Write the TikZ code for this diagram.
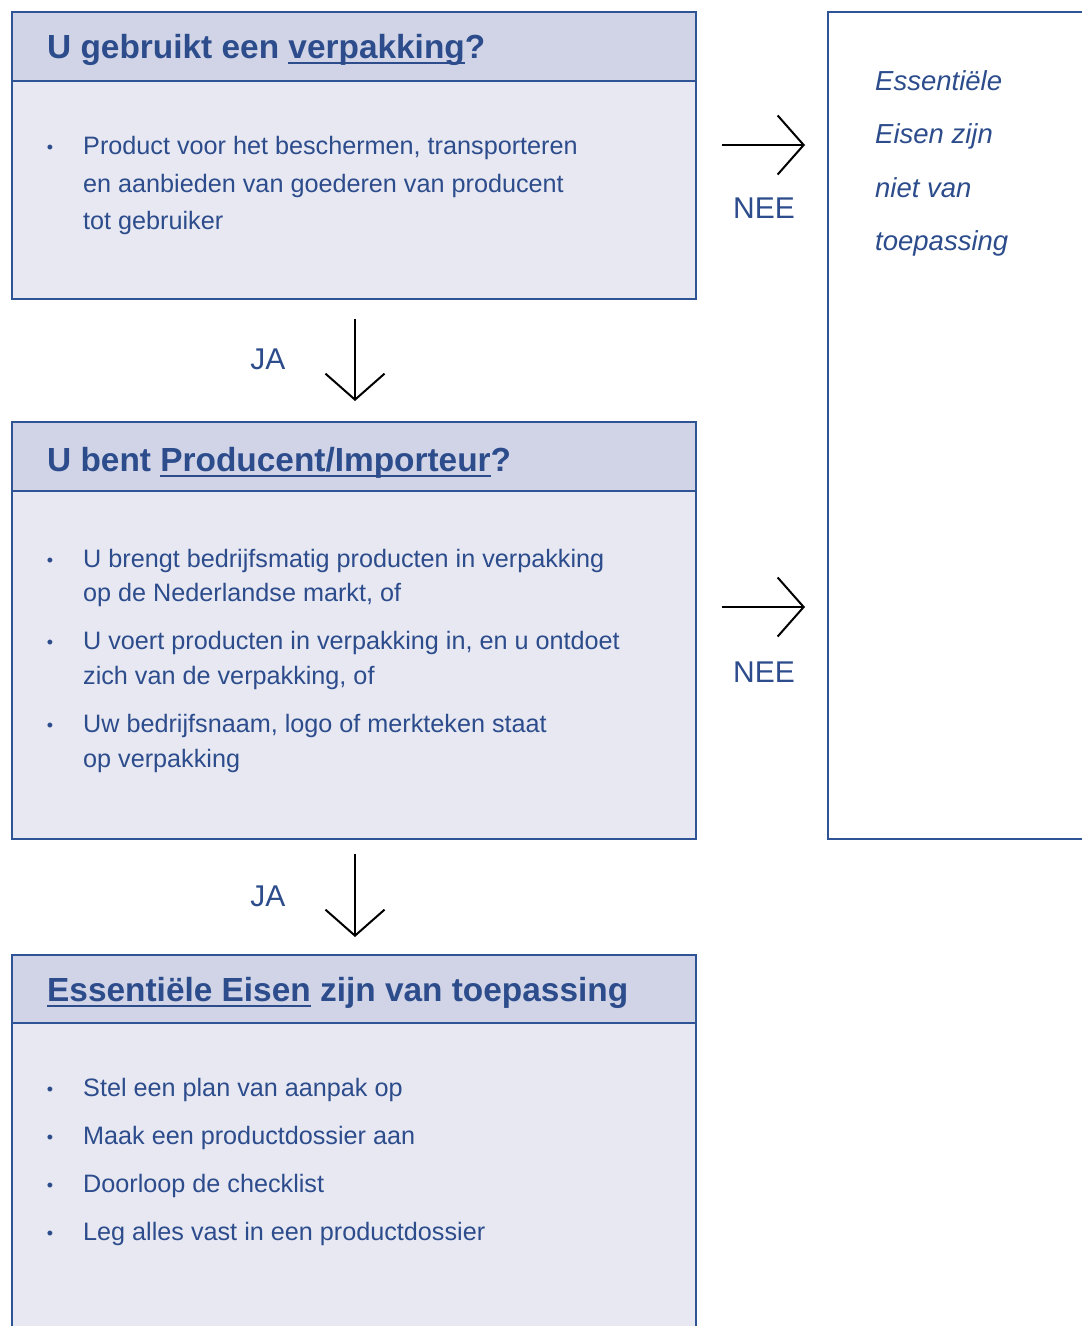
\documentclass[tikz,border=0pt]{standalone}
\usepackage{fontspec}
\setmainfont{Liberation Sans}
\usetikzlibrary{arrows.meta}
\definecolor{bord}{RGB}{47,84,150}
\definecolor{txt}{RGB}{44,76,140}
\definecolor{hdfill}{RGB}{208,212,230}
\definecolor{bdfill}{RGB}{231,232,242}
\newcommand\myul[1]{\setbox0=\hbox{#1}\rlap{\rule[-5.5pt]{\wd0}{1.4pt}}\box0\relax}
\begin{document}
\begin{tikzpicture}[x=1pt,y=-1pt,
 box/.style={draw=bord, line width=2.4pt, anchor=north west, inner sep=0pt, outer sep=0pt},
 hd/.style={anchor=base west, inner sep=0pt, text=txt, font=\fontsize{33.4}{40}\selectfont\bfseries},
 bd/.style={anchor=base west, inner sep=0pt, text=txt, font=\fontsize{25.2}{30}\selectfont},
 bul/.style={anchor=base, inner sep=0pt, text=txt, font=\fontsize{18}{20}\selectfont},
 lbl/.style={anchor=base, inner sep=0pt, text=txt, font=\fontsize{30}{36}\selectfont},
 itx/.style={anchor=base west, inner sep=0pt, text=txt, font=\fontsize{27.5}{33}\selectfont\itshape},
 arr/.style={line width=2pt, draw=black, -{Straight Barb[length=26pt,width=59pt,line width=2pt]}}]
\useasboundingbox (0,0) rectangle (1082,1326);
\clip (0,0) rectangle (1082,1326);
% right box
\node[box, fill=white, minimum width=420pt, minimum height=827pt] (rb) at (828,12) {};
% box 1
\node[box, fill=bdfill, minimum width=684pt, minimum height=287pt] (b1) at (12,12) {};
\node[box, fill=hdfill, minimum width=684pt, minimum height=69pt] (h1) at (12,12) {};
% box 2
\node[box, fill=bdfill, minimum width=684pt, minimum height=417pt] (b2) at (12,422) {};
\node[box, fill=hdfill, minimum width=684pt, minimum height=69pt] (h2) at (12,422) {};
% box 3
\node[box, fill=bdfill, minimum width=684pt, minimum height=450pt] (b3) at (12,955) {};
\node[box, fill=hdfill, minimum width=684pt, minimum height=68pt] (h3) at (12,955) {};
% headers
\node[hd] (t1) at (47,58) {U gebruikt een \myul{verpakking}?};
\node[hd] (t2) at (47,471) {U bent \myul{Producent/Importeur}?};
\node[hd] (t3) at (47,1001) {\myul{Essentiële Eisen} zijn van toepassing};
% box 1 body
\node[bul] (p1) at (50,153) {•};
\node[bd] (l11) at (83,154) {Product voor het beschermen, transporteren};
\node[bd] (l12) at (83,192) {en aanbieden van goederen van producent};
\node[bd] (l13) at (83,229) {tot gebruiker};
% box 2 body
\node[bul] (p21) at (50,566) {•};
\node[bd] (l21) at (83,567) {U brengt bedrijfsmatig producten in verpakking};
\node[bd] (l22) at (83,601) {op de Nederlandse markt, of};
\node[bul] (p22) at (50,648) {•};
\node[bd] (l23) at (83,649) {U voert producten in verpakking in, en u ontdoet};
\node[bd] (l24) at (83,684) {zich van de verpakking, of};
\node[bul] (p23) at (50,731) {•};
\node[bd] (l25) at (83,732) {Uw bedrijfsnaam, logo of merkteken staat};
\node[bd] (l26) at (83,767) {op verpakking};
% box 3 body
\node[bul] (p31) at (50,1095) {•};
\node[bd] (l31) at (83,1096) {Stel een plan van aanpak op};
\node[bul] (p32) at (50,1143) {•};
\node[bd] (l32) at (83,1144) {Maak een productdossier aan};
\node[bul] (p33) at (50,1191) {•};
\node[bd] (l33) at (83,1192) {Doorloop de checklist};
\node[bul] (p34) at (50,1239) {•};
\node[bd] (l34) at (83,1240) {Leg alles vast in een productdossier};
% right box text
\node[itx] (r1) at (875,90) {Essentiële};
\node[itx] (r2) at (875,143) {Eisen zijn};
\node[itx] (r3) at (875,197) {niet van};
\node[itx] (r4) at (875,250) {toepassing};
% arrows
\coordinate (a1s) at (722,145); \coordinate (a1e) at (805,145);
\coordinate (a2s) at (722,607); \coordinate (a2e) at (805,607);
\coordinate (d1s) at (355,319); \coordinate (d1e) at (355,401);
\coordinate (d2s) at (355,854); \coordinate (d2e) at (355,937);
\draw[arr] (a1s) -- (a1e);
\draw[arr] (a2s) -- (a2e);
\draw[arr] (d1s) -- (d1e);
\draw[arr] (d2s) -- (d2e);
\node[lbl] (n1) at (764,218) {NEE};
\node[lbl] (n2) at (764,682) {NEE};
\node[lbl] (j1) at (268,369) {JA};
\node[lbl] (j2) at (268,906) {JA};
\end{tikzpicture}
\end{document}
